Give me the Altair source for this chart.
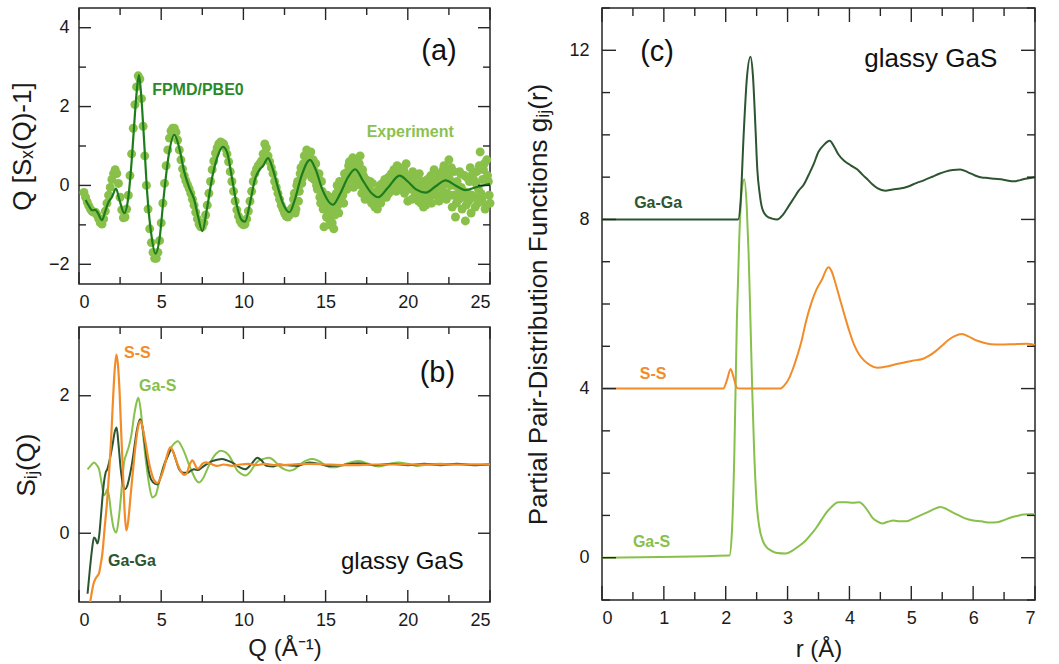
import altair as alt
import pandas as pd

FONT = "Liberation Sans"
INK = "#262626"

C_EXP = "#88c04a"     # measured points
C_FPMD = "#1d7d1d"    # simulated curve
C_GAGA = "#2d5530"
C_SS = "#f28c28"
C_GAS = "#87c04a"

# ---------------- (a) Q[S_X(Q)-1]: experiment on a uniform 0.1 grid from Q = 0.3
exp_y = [
    -0.18, -0.30, -0.42, -0.52, -0.60, -0.66, -0.68, -0.68, -0.75, -0.85,
    -0.95, -0.98, -0.85, -0.65, -0.45, -0.25, -0.05, 0.15, 0.30, 0.40,
    0.30, 0.05, -0.30, -0.62, -0.82, -0.80, -0.60, -0.25, 0.25, 0.80,
    1.45, 2.05, 2.50, 2.78, 2.70, 2.20, 1.50, 0.75, 0.00, -0.60,
    -1.10, -1.45, -1.70, -1.85, -1.85, -1.70, -1.40, -0.95, -0.45, 0.05,
    0.50, 0.90, 1.20, 1.38, 1.45, 1.45, 1.35, 1.15, 0.90, 0.65,
    0.42, 0.25, 0.12, 0.02, -0.08, -0.20, -0.35, -0.50, -0.68, -0.85,
    -0.98, -1.05, -1.05, -0.95, -0.75, -0.50, -0.20, 0.10, 0.40, 0.62,
    0.82, 0.95, 1.05, 1.10, 1.08, 1.05, 0.95, 0.80, 0.60, 0.35,
    0.10, -0.15, -0.40, -0.62, -0.78, -0.90, -0.97, -1.00, -0.98, -0.85,
    -0.65, -0.40, -0.15, 0.10, 0.30, 0.42, 0.50, 0.55, 0.62, 0.80,
    1.05, 0.95, 0.75, 0.60, 0.45, 0.30, 0.10, -0.05, -0.20, -0.35,
    -0.50, -0.60, -0.70, -0.78, -0.80, -0.75, -0.60,
    -0.55, -0.20, -0.60, 0.10, -0.15, 0.45, 0.20, 0.75, 0.35, 0.60,
    0.30, 0.85, 0.50, 0.15, 0.55, -0.10, 0.30, -0.45, -0.15, -1.05,
    -0.60, -0.25, -0.85, -0.40, -0.95, -1.10, -0.55, 0.00, -0.70, -0.30,
    0.05, -0.45, 0.25, -0.10, 0.50, 0.15, 0.40, -0.05, 0.30, 0.60,
    0.15, 0.75, -0.20, 0.25, -0.35, 0.05, -0.30, 0.10, -0.45, -0.20,
    -0.55, -0.15, -0.40, 0.00, -0.35, -0.10, 0.15, -0.30, 0.20, -0.05,
    0.30, 0.05, 0.35, -0.15, 0.10, 0.45, 0.00, 0.25, -0.20, 0.55,
    -0.40, 0.20, -0.10, 0.35, -0.30, 0.05, -0.25, 0.30, -0.45, 0.10,
    -0.15, -0.50, 0.15, -0.30, 0.25, -0.10, 0.40, -0.25, 0.10, -0.40,
    0.30, -0.05, 0.50, 0.20, -0.20, 0.65, 0.00, -0.55, 0.35, -0.80,
    0.10, -0.35, 0.30, -0.60, -0.15, -0.90, 0.20, -0.40, 0.45, -0.25,
    0.15, -0.55, 0.35, -0.10, 0.85, -0.35, 0.40, -0.60, 0.65, 0.10,
    -0.45,
]
exp_q = [round(0.3 + 0.1 * i, 1) for i in range(len(exp_y))]

# second experimental pass over the noisy high-Q range, Q = 13.05 ... 24.95
exp2_y = [
    -0.35, -0.70, 0.00, -0.40, 0.30, 0.05, 0.55, 0.40, 0.90, 0.45,
    0.70, 0.20, 0.65, 0.35, 0.00, 0.20, -0.30, 0.10, -0.60, -0.35,
    -0.80, -0.45, -1.00, -0.65, -0.30, -0.75, -0.20, -0.50, 0.10, -0.15,
    -0.25, 0.30, 0.00, 0.35, 0.60, 0.25, 0.70, 0.45, 0.10, 0.35,
    0.55, 0.00, 0.40, -0.05, 0.15, -0.25, -0.10, -0.35, 0.05, -0.50,
    -0.30, -0.60, -0.20, -0.45, 0.05, -0.25, -0.05, 0.10, -0.20, 0.25,
    0.15, 0.40, -0.05, 0.50, 0.20, 0.30, -0.10, 0.40, 0.15, -0.05,
    0.25, 0.00, -0.35, 0.15, -0.15, 0.25, -0.40, -0.05, -0.25, -0.55,
    0.00, -0.30, -0.10, 0.20, -0.45, 0.05, -0.20, 0.30, -0.05, 0.15,
    -0.25, 0.40, 0.05, -0.35, 0.30, 0.15, 0.45, -0.25, 0.00, -0.45,
    -0.20, 0.35, -0.05, -0.30, 0.25, -0.50, -0.20, 0.10, -0.70, 0.30,
    -0.30, 0.05, -0.45, 0.50, -0.20, 0.15, 0.55, -0.50, 0.25, -0.25,
]
exp2_q = [round(13.05 + 0.1 * i, 2) for i in range(len(exp2_y))]

fpmd_q = [0.4, 0.6, 0.8, 1.0, 1.15, 1.4, 1.6, 1.8, 2.0, 2.25, 2.45, 2.75, 3.0, 3.2,
          3.4, 3.55, 3.65, 3.78, 3.95, 4.15, 4.4, 4.65, 4.9, 5.15, 5.45, 5.8, 6.1,
          6.4, 6.7, 7.0, 7.25, 7.5, 7.8, 8.1, 8.4, 8.75, 9.0, 9.3, 9.6, 9.9, 10.1,
          10.4, 10.7, 10.95, 11.2, 11.5, 11.8, 12.1, 12.4, 12.8, 13.1, 13.5, 14.05,
          14.4, 14.8, 15.45, 15.9, 16.35, 16.8, 17.3, 17.8, 18.2, 18.8, 19.5, 20.0,
          20.5, 21.1, 21.7, 22.3, 22.9, 23.5, 24.2, 25.0]
fpmd_y = [-0.37, -0.52, -0.63, -0.62, -0.70, -0.88, -0.65, -0.42, -0.30, -0.08, -0.35,
          -0.70, -0.30, 0.60, 1.80, 2.55, 2.80, 2.30, 1.20, -0.20, -1.25, -1.73, -1.35,
          -0.30, 0.75, 1.28, 0.95, 0.35, -0.05, -0.35, -0.80, -1.16, -0.55, 0.20, 0.70,
          0.98, 0.85, 0.20, -0.50, -0.88, -0.92, -0.45, 0.15, 0.38, 0.50, 0.69, 0.40,
          -0.05, -0.45, -0.68, -0.40, 0.20, 0.65, 0.40, -0.10, -0.49, -0.20, 0.20, 0.41,
          0.10, -0.20, -0.30, -0.05, 0.25, 0.10, -0.10, -0.18, -0.02, 0.13, 0.00, -0.12,
          -0.04, 0.04]

# ---------------- (b) partial structure factors S_ij(Q)
ss_q = [0.62, 0.75, 0.9, 1.01, 1.12, 1.22, 1.32, 1.42, 1.55, 1.72, 1.85, 1.95, 2.05, 2.15,
        2.27, 2.37, 2.47, 2.57, 2.68, 2.78, 2.88, 2.98, 3.14, 3.3, 3.45, 3.6, 3.75, 3.9,
        4.06, 4.2, 4.36, 4.55, 4.77, 4.95, 5.17, 5.38, 5.55, 5.7, 5.85, 6.0, 6.2, 6.4,
        6.55, 6.7, 6.9, 7.05, 7.2, 7.35, 7.5, 7.7, 8.0, 8.4, 8.8, 9.3, 9.8, 10.3, 10.8,
        11.3, 12.0, 13.0, 14.0, 15.0, 16.5, 18.0, 20.0, 22.0, 25.0]
ss_s = [-1.10, -0.90, -0.72, -0.66, -0.62, -0.58, -0.45, -0.30, 0.05, 0.50, 0.95, 1.35,
        1.85, 2.30, 2.60, 2.45, 2.05, 1.45, 0.85, 0.30, 0.04, 0.15, 0.55, 0.95, 1.30, 1.55,
        1.63, 1.50, 1.30, 1.10, 0.92, 0.78, 0.73, 0.80, 0.95, 1.15, 1.25, 1.20, 1.10, 1.00,
        0.90, 0.85, 0.87, 0.98, 1.06, 1.00, 0.94, 0.96, 1.01, 1.03, 1.01, 0.98, 1.00, 0.98,
        1.00, 1.01, 0.99, 1.01, 0.99, 1.00, 1.01, 1.00, 0.99, 1.00, 1.00, 1.00, 1.00]

gaga_q = [0.52, 0.65, 0.8, 0.91, 1.0, 1.12, 1.22, 1.32, 1.42, 1.52, 1.62, 1.72, 1.85, 2.03,
          2.18, 2.29, 2.4, 2.54, 2.67, 2.8, 2.92, 3.04, 3.2, 3.35, 3.52, 3.71, 3.86, 4.02,
          4.16, 4.3, 4.5, 4.77, 4.97, 5.17, 5.4, 5.64, 5.85, 6.09, 6.35, 6.59, 6.8, 7.0,
          7.25, 7.5, 7.8, 8.1, 8.4, 8.7, 9.0, 9.3, 9.7, 10.1, 10.5, 10.85, 11.1, 11.4, 11.8,
          12.2, 12.7, 13.3, 14.0, 14.6, 15.2, 16.0, 17.0, 18.0, 19.0, 20.0, 21.0, 22.0,
          23.0, 24.0, 25.0]
gaga_s = [-0.88, -0.55, -0.22, -0.06, -0.08, -0.15, -0.05, 0.21, 0.50, 0.74, 0.88, 0.93,
          1.05, 1.27, 1.48, 1.54, 1.30, 0.93, 0.72, 0.64, 0.68, 0.79, 0.98, 1.22, 1.50,
          1.66, 1.55, 1.27, 1.02, 0.84, 0.74, 0.71, 0.82, 0.98, 1.12, 1.22, 1.10, 0.93,
          0.88, 0.88, 0.91, 0.93, 0.92, 0.96, 1.01, 1.05, 1.07, 1.08, 1.06, 1.03, 0.97,
          0.93, 1.01, 1.10, 1.06, 0.98, 0.97, 1.00, 0.99, 0.98, 1.03, 1.01, 0.98, 0.99,
          1.02, 0.99, 1.01, 0.99, 1.01, 0.99, 1.01, 0.99, 1.00]

gas_q = [0.52, 0.7, 0.91, 1.05, 1.22, 1.38, 1.52, 1.62, 1.72, 1.82, 1.95, 2.1, 2.27, 2.4,
         2.54, 2.65, 2.74, 2.88, 3.04, 3.2, 3.35, 3.5, 3.61, 3.75, 3.89, 4.02, 4.16, 4.3,
         4.46, 4.65, 4.87, 5.1, 5.38, 5.7, 6.02, 6.25, 6.49, 6.7, 6.9, 7.1, 7.3, 7.55, 7.8,
         8.1, 8.35, 8.62, 8.9, 9.13, 9.4, 9.63, 9.9, 10.14, 10.4, 10.65, 10.9, 11.2, 11.56,
         11.85, 12.17, 12.5, 12.8, 13.1, 13.5, 13.85, 14.2, 14.6, 15.0, 15.3, 15.6, 16.0,
         16.5, 17.05, 17.6, 18.2, 18.8, 19.4, 20.0, 20.6, 21.3, 22.0, 23.0, 24.0, 25.0]
gas_s = [0.93, 0.98, 1.03, 1.00, 0.93, 0.72, 0.55, 0.58, 0.64, 0.55, 0.30, 0.08, 0.01,
         0.18, 0.50, 0.82, 1.03, 1.15, 1.27, 1.45, 1.71, 1.90, 1.97, 1.80, 1.46, 1.15,
         0.88, 0.66, 0.52, 0.55, 0.74, 0.95, 1.13, 1.28, 1.34, 1.26, 1.13, 0.99, 0.88,
         0.78, 0.74, 0.80, 0.93, 1.08, 1.16, 1.20, 1.18, 1.13, 1.01, 0.91, 0.86, 0.84,
         0.89, 0.98, 1.05, 1.08, 1.10, 1.06, 0.98, 0.93, 0.91, 0.93, 1.01, 1.06, 1.08,
         1.05, 0.99, 0.96, 0.96, 0.99, 1.03, 1.05, 1.01, 0.97, 1.00, 1.03, 1.01, 0.98,
         1.00, 1.01, 1.00, 1.00, 1.00]

# ---------------- (c) partial pair-distribution functions (Ga-Ga shifted by 8, S-S by 4)
gaga_r = [0.0, 2.2, 2.24, 2.29, 2.34, 2.4, 2.44, 2.48, 2.51, 2.55, 2.59, 2.66, 2.75, 2.83,
          2.93, 3.02, 3.1, 3.18, 3.26, 3.34, 3.42, 3.5, 3.58, 3.68, 3.76, 3.82, 3.92, 4.02,
          4.13, 4.21, 4.29, 4.37, 4.45, 4.58, 4.7, 4.82, 4.95, 5.08, 5.21, 5.34, 5.45,
          5.55, 5.67, 5.79, 5.91, 6.03, 6.14, 6.24, 6.35, 6.45, 6.55, 6.66, 6.76, 6.87, 7.0]
gaga_g = [8.0, 8.0, 8.4, 10.0, 11.3, 11.85, 11.4, 10.2, 9.2, 8.6, 8.26, 8.08, 8.02, 8.0,
          8.12, 8.32, 8.5, 8.68, 8.82, 9.05, 9.3, 9.6, 9.75, 9.86, 9.7, 9.54, 9.38, 9.28,
          9.18, 9.06, 8.95, 8.83, 8.74, 8.68, 8.71, 8.73, 8.78, 8.86, 8.93, 9.01, 9.08,
          9.13, 9.17, 9.18, 9.12, 9.04, 8.99, 8.98, 8.96, 8.95, 8.92, 8.9, 8.93, 8.97, 9.0]

ss_r = [0.0, 1.96, 2.02, 2.08, 2.13, 2.18, 2.22, 2.88, 2.95, 3.02, 3.09, 3.16, 3.23, 3.29,
        3.39, 3.47, 3.55, 3.66, 3.71, 3.76, 3.84, 3.92, 4.0, 4.08, 4.16, 4.24, 4.34, 4.45,
        4.6, 4.73, 4.87, 5.02, 5.18, 5.29, 5.39, 5.5, 5.6, 5.7, 5.82, 5.93, 6.03, 6.16,
        6.29, 6.45, 6.66, 6.87, 7.0]
ss_g = [4.0, 4.0, 4.2, 4.46, 4.25, 4.02, 4.0, 4.0, 4.08, 4.23, 4.48, 4.79, 5.15, 5.54,
        6.05, 6.35, 6.56, 6.87, 6.78, 6.56, 6.15, 5.74, 5.35, 5.02, 4.8, 4.66, 4.55, 4.49,
        4.52, 4.57, 4.61, 4.66, 4.70, 4.78, 4.88, 5.02, 5.15, 5.24, 5.29, 5.23, 5.15, 5.09,
        5.05, 5.04, 5.05, 5.06, 5.03]

gas_r = [0.0, 2.06, 2.1, 2.14, 2.18, 2.22, 2.26, 2.3, 2.34, 2.37, 2.4, 2.43, 2.46, 2.5,
         2.54, 2.6, 2.66, 2.72, 2.81, 2.97, 3.08, 3.18, 3.29, 3.39, 3.47, 3.55, 3.63, 3.71,
         3.82, 3.95, 4.05, 4.16, 4.24, 4.31, 4.37, 4.45, 4.53, 4.62, 4.71, 4.82, 4.92, 5.02,
         5.13, 5.24, 5.34, 5.47, 5.57, 5.66, 5.77, 5.87, 6.0, 6.13, 6.27, 6.39, 6.5, 6.61,
         6.72, 6.82, 6.92, 7.0]
gas_g = [0.0, 0.05, 0.6, 2.5, 5.6, 7.6, 8.7, 8.95, 8.3, 7.2, 5.6, 3.9, 2.5, 1.3, 0.75, 0.4,
         0.25, 0.18, 0.12, 0.1, 0.17, 0.27, 0.4, 0.57, 0.72, 0.9, 1.07, 1.2, 1.31, 1.31, 1.3,
         1.31, 1.22, 1.08, 0.95, 0.86, 0.81, 0.85, 0.88, 0.86, 0.86, 0.92, 0.99, 1.06, 1.13,
         1.2, 1.15, 1.08, 1.0, 0.93, 0.88, 0.86, 0.83, 0.84, 0.89, 0.95, 0.99, 1.02, 1.03,
         1.03]


def panel(layers, W, H, xdom, ydom, xlabels, ylabels, xminor, yminor,
          ytitle, xtitle=None, ypad_title=18, ylab_pad=10, xpad_title=2, maj=12, mnr=7):
    xaxis = alt.Axis(values=xlabels, title=xtitle, labelPadding=9,
                     titlePadding=xpad_title, format="d", titleFontSize=24)
    yaxis = alt.Axis(values=ylabels, title=ytitle, labelPadding=ylab_pad,
                     titlePadding=ypad_title, format="d", titleFontSize=26)
    xs = alt.Scale(domain=xdom, nice=False, zero=False)
    ys = alt.Scale(domain=ydom, nice=False, zero=False)

    def X(f):
        return alt.X(f"{f}:Q", scale=xs, axis=xaxis)

    def Y(f):
        return alt.Y(f"{f}:Q", scale=ys, axis=yaxis)

    out = [build(X, Y) for build in layers]

    # inward frame ticks on all four sides
    def xt(vals, L):
        base = alt.Chart(pd.DataFrame({"tx": vals})).mark_rule(color=INK, strokeWidth=1.4)
        return [base.encode(x=X("tx"), y=alt.value(H), y2=alt.value(H - L)),
                base.encode(x=X("tx"), y=alt.value(0), y2=alt.value(L))]

    def yt(vals, L):
        base = alt.Chart(pd.DataFrame({"ty": vals})).mark_rule(color=INK, strokeWidth=1.4)
        return [base.encode(y=Y("ty"), x=alt.value(0), x2=alt.value(L)),
                base.encode(y=Y("ty"), x=alt.value(W), x2=alt.value(W - L))]

    out += xt(xlabels, maj) + xt(xminor, mnr)
    out += yt(ylabels, maj)
    if yminor:
        out += yt(yminor, mnr)
    return alt.layer(*out).properties(width=W, height=H)


def line(xs_, ys_, color, width=2.0, clip=False):
    df = pd.DataFrame({"x": xs_, "y": ys_})

    def build(X, Y):
        return alt.Chart(df).mark_line(color=color, strokeWidth=width, interpolate="monotone",
                                       clip=clip).encode(x=X("x"), y=Y("y"))
    return build


def points(xs_, ys_, color):
    df = pd.DataFrame({"x": xs_, "y": ys_})

    def build(X, Y):
        return alt.Chart(df).mark_circle(color=color, size=80, opacity=1).encode(
            x=X("x"), y=Y("y"))
    return build


def label(text, x, y, color, size=16, weight="bold", align="left"):
    df = pd.DataFrame({"x": [x], "y": [y], "t": [text]})

    def build(X, Y):
        return alt.Chart(df).mark_text(font=FONT, fontSize=size, fontWeight=weight,
                                       color=color, align=align, baseline="middle").encode(
            x=X("x"), y=Y("y"), text="t:N")
    return build


qticks_major = [0, 5, 10, 15, 20, 25]
qticks_minor = [2.5, 7.5, 12.5, 17.5, 22.5]

chart_a = panel(
    [points(exp_q, exp_y, C_EXP),
     points(exp2_q, exp2_y, C_EXP),
     line(fpmd_q, fpmd_y, C_FPMD, 2.2),
     label("FPMD/PBE0", 4.45, 2.41, "#2a8a2a"),
     label("Experiment", 17.5, 1.35, "#8cc152"),
     label("(a)", 21.9, 3.4, "#111111", size=29, weight="normal", align="center")],
    411, 276, [0, 25], [-2.5, 4.5],
    xlabels=qticks_major, ylabels=[-2, 0, 2, 4], xminor=qticks_minor, yminor=[-1, 1, 3],
    ytitle="Q [Sₓ(Q)-1]", xtitle=None, ypad_title=13)

chart_b = panel(
    [line(gas_q, gas_s, C_GAS, 2.0, clip=True),
     line(gaga_q, gaga_s, C_GAGA, 2.0, clip=True),
     line(ss_q, ss_s, C_SS, 2.2, clip=True),
     label("S-S", 2.74, 2.62, C_SS),
     label("Ga-S", 3.65, 2.14, C_GAS),
     label("Ga-Ga", 1.76, -0.41, C_GAGA),
     label("(b)", 21.8, 2.33, "#111111", size=29, weight="normal", align="center"),
     label("glassy GaS", 23.4, -0.42, "#111111", size=24, weight="normal", align="right")],
    411, 275, [0, 25], [-1, 3],
    xlabels=qticks_major, ylabels=[0, 2], xminor=qticks_minor, yminor=[],
    ytitle="Sᵢⱼ(Q)", xtitle="Q (Å⁻¹)", ypad_title=19, xpad_title=7)

chart_c = panel(
    [line(gas_r, gas_g, C_GAS, 2.0),
     line(ss_r, ss_g, C_SS, 2.0),
     line(gaga_r, gaga_g, C_GAGA, 2.0),
     label("Ga-Ga", 0.52, 8.38, C_GAGA),
     label("S-S", 0.61, 4.34, C_SS),
     label("Ga-S", 0.5, 0.38, C_GAS),
     label("(c)", 0.89, 11.96, "#111111", size=29, weight="normal", align="center"),
     label("glassy GaS", 6.39, 11.8, "#111111", size=26, weight="normal", align="right")],
    433, 592, [0, 7], [-1, 13],
    xlabels=[0, 1, 2, 3, 4, 5, 6, 7], ylabels=[0, 4, 8, 12],
    xminor=[0.5, 1.5, 2.5, 3.5, 4.5, 5.5, 6.5],
    yminor=[-1, 1, 2, 3, 5, 6, 7, 9, 10, 11, 13],
    ytitle="Partial Pair-Distribution Functions gᵢⱼ(r)", xtitle="r (Å)",
    ypad_title=17, ylab_pad=13, xpad_title=10, maj=14, mnr=8)

left = alt.vconcat(chart_a, chart_b, spacing=13)
chart = alt.hconcat(left, chart_c, spacing=29).properties(
    padding={"left": 8, "top": 6, "right": 5, "bottom": 0},
    background="white",
).configure_view(
    stroke=INK, strokeWidth=1.5
).configure_axis(
    labelFont=FONT, labelFontSize=18, labelColor="#1a1a1a",
    titleFont=FONT, titleFontWeight="normal", titleColor="#1a1a1a",
    ticks=False, domain=False, grid=False,
)

chart.save("out.html", embed_options={"renderer": "svg", "actions": False})
